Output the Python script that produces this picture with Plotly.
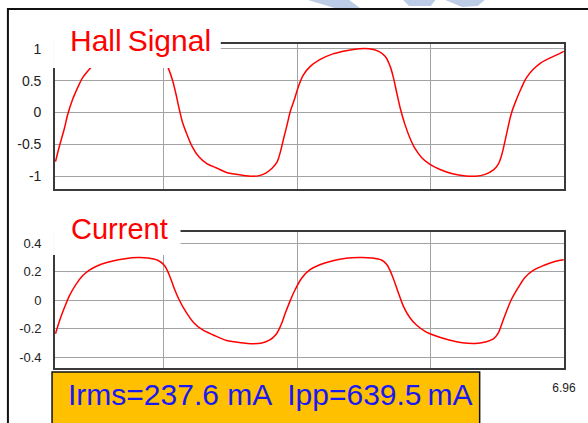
import plotly.graph_objects as go

# ---------------- data ----------------
hall_t = [0.007, 0.060, 0.128, 0.172, 0.239, 0.306, 0.374, 0.441, 0.486, 0.580, 0.755, 0.934,
          1.118, 1.252, 1.387, 1.477, 1.548, 1.606, 1.650, 1.696, 1.740, 1.807, 1.874, 1.964,
          2.076, 2.210, 2.345, 2.546, 2.680, 2.792, 2.882, 2.972, 3.039, 3.084, 3.128, 3.174,
          3.218, 3.272, 3.329, 3.397, 3.487, 3.621, 3.800, 3.980, 4.158, 4.293, 4.427, 4.517,
          4.584, 4.629, 4.673, 4.727, 4.786, 4.853, 4.920, 5.009, 5.122, 5.256, 5.435, 5.614,
          5.748, 5.882, 5.995, 6.062, 6.107, 6.151, 6.197, 6.241, 6.308, 6.375, 6.443, 6.533,
          6.644, 6.779, 6.890, 6.957]
hall_v = [-0.77, -0.53, -0.25, -0.04, 0.20, 0.38, 0.54, 0.64, 0.70, 0.83, 0.92, 0.97,
          1.00, 1.00, 0.96, 0.88, 0.70, 0.51, 0.31, 0.07, -0.14, -0.35, -0.53, -0.69,
          -0.80, -0.87, -0.94, -0.98, -1.00, -0.99, -0.95, -0.87, -0.77, -0.61, -0.40, -0.19,
          0.02, 0.20, 0.41, 0.59, 0.72, 0.83, 0.92, 0.97, 1.00, 1.00, 0.96, 0.88,
          0.72, 0.54, 0.31, 0.04, -0.19, -0.40, -0.56, -0.70, -0.81, -0.89, -0.96, -0.995,
          -1.00, -0.97, -0.90, -0.81, -0.67, -0.46, -0.22, -0.01, 0.20, 0.38, 0.54, 0.67,
          0.78, 0.86, 0.92, 0.96]

cur_t = [0.007, 0.060, 0.128, 0.195, 0.285, 0.374, 0.464, 0.598, 0.777, 0.957, 1.135, 1.270,
         1.404, 1.494, 1.561, 1.628, 1.696, 1.784, 1.897, 2.009, 2.166, 2.345, 2.456, 2.636,
         2.815, 2.926, 3.016, 3.084, 3.151, 3.218, 3.285, 3.375, 3.487, 3.621, 3.800, 3.980,
         4.158, 4.337, 4.471, 4.539, 4.606, 4.696, 4.763, 4.853, 4.942, 5.055, 5.210, 5.390,
         5.569, 5.748, 5.882, 5.995, 6.062, 6.107, 6.174, 6.241, 6.331, 6.420, 6.533, 6.688,
         6.845, 6.957]
cur_v = [-0.234, -0.146, -0.052, 0.030, 0.110, 0.170, 0.210, 0.246, 0.274, 0.292, 0.300, 0.297,
         0.281, 0.246, 0.180, 0.087, 0.006, -0.076, -0.157, -0.204, -0.243, -0.281, -0.290, -0.302,
         -0.300, -0.281, -0.243, -0.180, -0.087, 0.000, 0.076, 0.157, 0.215, 0.250, 0.278, 0.295,
         0.300, 0.297, 0.281, 0.250, 0.180, 0.052, -0.040, -0.122, -0.173, -0.215, -0.250, -0.278,
         -0.297, -0.302, -0.292, -0.270, -0.227, -0.169, -0.076, 0.006, 0.087, 0.157, 0.208, 0.246,
         0.274, 0.285]

x_grid = [1.49, 3.31, 5.13, 6.96]
x_labels = ["", "", "", "6.96"]
hall_ticks = [-1, -0.5, 0, 0.5, 1]
hall_labels = ["-1", "-0.5", "0", "0.5", "1"]
cur_ticks = [-0.4, -0.2, 0, 0.2, 0.4]
cur_labels = ["-0.4", "-0.2", "0", "0.2", "0.4"]

title_hall = "Hall\u2009Signal"
title_cur = "Current"
info_text = "Irms=237.6 mA \u00a0Ipp=639.5\u2009mA"

# ---------------- layout geometry ----------------
W, H = 588, 423
ML, MR, MT, MB = 55, 14, 44, 55
PW, PH = W - ML - MR, H - MT - MB


def px(x):
    return (x - ML) / PW


def py(y):
    return (H - MB - y) / PH


FONT = "Liberation Sans, Arial, sans-serif"
RED = "#FF0000"
GRID = "#a3a3a3"
AXL = "#3a3a3a"

fig = go.Figure()
fig.add_trace(go.Scatter(x=hall_t, y=hall_v, mode="lines", line=dict(color=RED, width=1.5, shape="spline"),
                         xaxis="x", yaxis="y", showlegend=False, hoverinfo="skip"))
fig.add_trace(go.Scatter(x=cur_t, y=cur_v, mode="lines", line=dict(color=RED, width=1.5, shape="spline"),
                         xaxis="x2", yaxis="y2", showlegend=False, hoverinfo="skip"))

axis_common = dict(showgrid=True, gridcolor=GRID, gridwidth=1.2, showline=True, mirror=True,
                   linecolor=AXL, linewidth=1.6, zeroline=False, ticks="")

fig.update_layout(
    width=W, height=H, margin=dict(l=ML, r=MR, t=MT, b=MB),
    paper_bgcolor="white", plot_bgcolor="white",
    font=dict(family=FONT, color="#222222"),
    xaxis=dict(domain=[0, 1], range=[0, 6.96], tickmode="array", tickvals=x_grid,
               showticklabels=False, anchor="y", **axis_common),
    yaxis=dict(domain=[py(188.5), 1], range=[-1.192, 1.075], tickmode="array", tickvals=hall_ticks,
               ticktext=hall_labels, tickfont=dict(size=14, family=FONT, color="#222"),
               ticklabelstandoff=9, anchor="x", **axis_common),
    xaxis2=dict(domain=[0, 1], range=[0, 6.96], tickmode="array", tickvals=x_grid, ticktext=x_labels,
                tickfont=dict(size=12, family=FONT, color="#222"), ticklabelstandoff=8,
                anchor="y2", **axis_common),
    yaxis2=dict(domain=[0, py(232.3)], range=[-0.474, 0.477], tickmode="array", tickvals=cur_ticks,
                ticktext=cur_labels, tickfont=dict(size=13, family=FONT, color="#222"),
                ticklabelstandoff=9, anchor="x2", **axis_common),
)

shapes = []
# watermark fragments at top
for path in [
    "M {} {} L {} {} L {} {} L {} {} Z".format(px(313), py(0), px(355), py(0), px(366), py(8), px(340), py(8)),
    "M {} {} L {} {} L {} {} L {} {} Z".format(px(410), py(0), px(443), py(0), px(438), py(6), px(416), py(6)),
    "M {} {} L {} {} L {} {} L {} {} Z".format(px(453), py(0), px(493), py(0), px(486), py(6), px(470), py(7)),
]:
    shapes.append(dict(type="path", path=path, xref="paper", yref="paper", fillcolor="#bccbe6",
                       line=dict(width=0), layer="below"))
# outer frame
shapes.append(dict(type="rect", xref="paper", yref="paper", x0=px(7), y0=py(440), x1=px(600), y1=py(9),
                   line=dict(color="#111111", width=2), fillcolor="rgba(0,0,0,0)", layer="above"))
# white boxes behind titles
shapes.append(dict(type="rect", xref="paper", yref="paper", x0=px(53), y0=py(68), x1=px(224), y1=py(18),
                   line=dict(width=0), fillcolor="white", layer="above"))
shapes.append(dict(type="rect", xref="paper", yref="paper", x0=px(53), y0=py(255), x1=px(183), y1=py(205),
                   line=dict(width=0), fillcolor="white", layer="above"))
# info box
shapes.append(dict(type="rect", xref="paper", yref="paper", x0=px(52), y0=py(435), x1=px(488), y1=py(372),
                   line=dict(color="#111111", width=1.5), fillcolor="#FFC000", layer="above"))
fig.update_layout(shapes=shapes)

fig.add_annotation(text=title_hall, xref="paper", yref="paper", x=px(68), y=py(41), xanchor="left",
                   yanchor="middle", showarrow=False, font=dict(size=30, color=RED, family=FONT))
fig.add_annotation(text=title_cur, xref="paper", yref="paper", x=px(69), y=py(229), xanchor="left",
                   yanchor="middle", showarrow=False, font=dict(size=29, color=RED, family=FONT))
fig.add_annotation(text=info_text, xref="paper", yref="paper", x=px(66), y=py(394), xanchor="left",
                   yanchor="middle", showarrow=False, font=dict(size=30, color="#1A1AF0", family=FONT))

fig.write_html("out.html")
